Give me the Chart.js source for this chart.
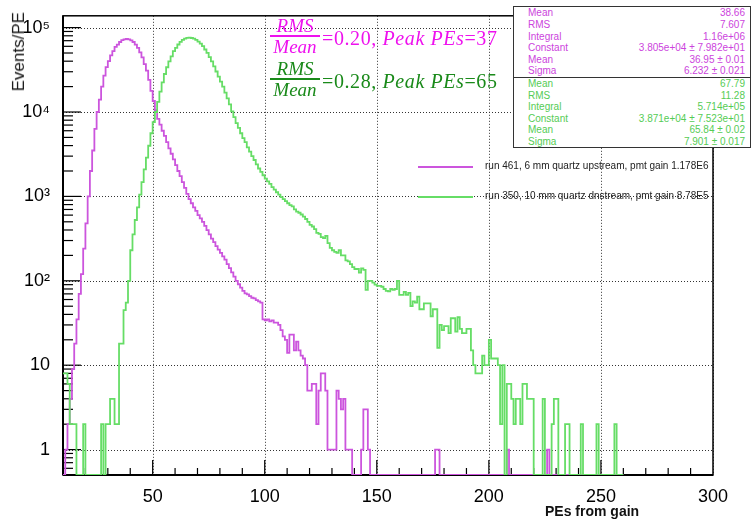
<!DOCTYPE html>
<html>
<head>
<meta charset="utf-8">
<title>PEs from gain</title>
<script src="https://cdn.jsdelivr.net/npm/chart.js@4.4.1/dist/chart.umd.min.js"></script>
<style>
  html, body { margin: 0; padding: 0; background: #fff; }
  #wrap { position: relative; width: 752px; height: 520px; overflow: hidden;
          font-family: "Liberation Sans", Arial, Helvetica, sans-serif; }
  #plot { position: absolute; left: 0; top: 0; }
  .abs { position: absolute; white-space: nowrap; }
  #ytitle { left: 9px; top: 12px; font-size: 17px; line-height: 20px; color: #111;
            writing-mode: vertical-rl; transform: rotate(180deg); }
  #xtitle { left: 545px; top: 503px; font-size: 14px; font-weight: bold; line-height: 16px; color: #111; }
  .tex { font-family: "Liberation Serif", "DejaVu Serif", serif; line-height: 1; }
  .tex i { font-style: italic; }
  .num, .den { font-size: 19px; font-style: italic; width: 52px; text-align: center; }
  .bar { height: 1.5px; width: 50px; }
  .eq { font-size: 20px; letter-spacing: 0.6px; }
  .stats { left: 513px; width: 238px; box-sizing: border-box; border: 1px solid #333;
           background: #fff; font-size: 10px; }
  .stats .row { display: flex; justify-content: space-between; height: 11.6px; line-height: 11.6px;
                padding: 0 5px 0 14px; }
  .leg-line { height: 2px; width: 55px; }
  .leg-text { font-size: 10px; line-height: 12px; color: #222; }
</style>
</head>
<body>
<div id="wrap">
  <canvas id="plot" width="752" height="520"></canvas>
  <div id="ytitle" class="abs">Events/PE</div>
  <div id="xtitle" class="abs">PEs from gain</div>
</div>
<script>
// ── data ────────────────────────────────────────────────
// one bin per PE, first bin starts at PE 10
const BIN_LOW   = 10;
const BIN_WIDTH = 1;

// run 461 (magenta), bins PE 10..259
const run461 = [
  0, 1, 2, 4, 9, 18, 35, 70, 120, 240,
  480, 1000, 2000, 3500, 6300, 10000, 14000, 20000, 27000, 34000,
  40000, 47000, 52500, 59000, 63000, 67500, 71000, 72500, 73300, 72500,
  70500, 67500, 63000, 57500, 51000, 44500, 37000, 31000, 24000, 17800,
  13500, 10500, 8300, 7100, 6000, 5200, 4400, 3700, 3200, 2750,
  2350, 2000, 1740, 1480, 1260, 1070, 930, 830, 740, 675,
  600, 550, 500, 447, 398, 355, 316, 288, 257, 234,
  214, 195, 178, 158, 141, 126, 112, 100, 91, 83,
  76, 71, 69, 66, 63, 62, 59, 57, 55, 35,
  34, 35, 33, 34, 32, 32, 30, 26, 22, 20,
  14, 23, 23, 15, 19, 15, 13, 12, 10, 5,
  5, 6, 6, 2, 5, 8, 8, 5, 1, 1,
  1, 1, 5, 4, 3, 4, 1, 1, 1, 0,
  0, 0, 0, 1, 3, 3, 1, 0, 0, 0,
  0, 0, 0, 0, 0, 0, 0, 0, 0, 0,
  0, 0, 0, 0, 0, 0, 0, 0, 0, 0,
  0, 0, 0, 0, 0, 0, 1, 1, 0, 0,
  0, 0, 0, 0, 0, 0, 0, 0, 0, 0,
  0, 0, 0, 0, 0, 0, 0, 0, 0, 0,
  0, 0, 0, 0, 0, 0, 0, 0, 1, 0,
  0, 0, 0, 0, 0, 0, 0, 0, 0, 0,
  0, 0, 0, 0, 0, 0, 1, 0, 0, 0,
  0, 0, 0, 0, 0, 0, 0, 0, 0, 0,
  0, 0, 0, 0, 0, 0, 0, 0, 0, 0,
  0, 0, 0, 0, 0, 0, 0, 0, 0, 0
];

// run 350 (green), bins PE 10..259
const run350 = [
  8, 8, 6, 2, 2, 2, 0, 0, 0, 2,
  0, 0, 0, 0, 0, 0, 0, 2, 0, 2,
  2, 4, 4, 2, 2, 18, 18, 45, 55, 100,
  230, 355, 525, 740, 1050, 1480, 2090, 2880, 3980, 5600,
  7600, 10000, 13200, 17400, 22400, 28200, 33900, 39800, 45700, 52500,
  57500, 63100, 67600, 71600, 74100, 75500, 75900, 75300, 74100, 71600,
  68400, 64600, 60300, 55000, 50100, 44700, 39800, 34700, 30200, 26300,
  22900, 20000, 17000, 14500, 12300, 10200, 8700, 7400, 6500, 5600,
  4900, 4400, 3800, 3400, 3000, 2700, 2400, 2140, 1950, 1780,
  1620, 1510, 1410, 1290, 1200, 1120, 1050, 980, 930, 880,
  830, 790, 760, 700, 660, 640, 610, 575, 540, 500,
  460, 440, 410, 370, 360, 330, 320, 340, 280, 245,
  230, 220, 214, 230, 200, 200, 175, 170, 158, 145,
  138, 138, 125, 140, 135, 78, 100, 100, 95, 90,
  87, 87, 85, 80, 76, 75, 80, 78, 80, 100,
  68, 68, 74, 68, 72, 50, 57, 55, 65, 46,
  46, 54, 54, 54, 38, 46, 46, 16, 30, 26,
  29, 29, 24, 36, 36, 25, 37, 27, 24, 24,
  27, 27, 15, 10, 8, 8, 8, 13, 10, 10,
  20, 12, 12, 12, 10, 2, 10, 0, 6, 6,
  4, 2, 4, 4, 2, 6, 6, 4, 4, 4,
  0, 0, 0, 0, 4, 0, 0, 0, 2, 4,
  4, 0, 0, 0, 2, 2, 0, 0, 0, 0,
  0, 2, 0, 0, 0, 0, 0, 0, 2, 0,
  0, 0, 0, 0, 0, 0, 2, 0, 0, 0
];

const X_MIN = 10, X_MAX = 300;
const Y_MIN = 0.5, Y_MAX = 1.38e5;
const X_TICKS       = [50, 100, 150, 200, 250, 300];
const X_TICK_LABELS = ['50', '100', '150', '200', '250', '300'];
const Y_TICKS       = [1, 10, 100, 1000, 10000, 100000];
const Y_TICK_LABELS = ['1', '10', '10²', '10³', '10⁴', '10⁵'];

const LEGEND_TEXT = [
  'run 461, 6 mm quartz upstream, pmt gain 1.178E6',
  'run 350, 10 mm quartz dnstream, pmt gain 8.78E5'
];
const STATS_LABELS = ['Mean', 'RMS', 'Integral', 'Constant', 'Mean', 'Sigma'];
const STATS_461 = ['38.66', '7.607', '1.16e+06', '3.805e+04 ± 7.982e+01', '36.95 ± 0.01', '6.232 ± 0.021'];
const STATS_350 = ['67.79', '11.28', '5.714e+05', '3.871e+04 ± 7.523e+01', '65.84 ± 0.02', '7.901 ± 0.017'];
const RMS_OVER_MEAN = ['0.20', '0.28'];
const PEAK_PES      = ['37', '65'];

// ── colours ─────────────────────────────────────────────
const MAGENTA     = '#cc55dd';
const GREEN       = '#66dd66';
const TEX_COLORS  = ['#ee11ee', '#1a8a1a'];
const STAT_COLORS = ['#cc44dd', '#55cc55'];

Chart.defaults.font.family = '"Liberation Sans", Arial, sans-serif';
Chart.defaults.color = '#000';

// ── helpers ─────────────────────────────────────────────
// bin contents -> step points; empty bins sit on the bottom of the frame like ROOT
function toPoints(vals) {
  const pts = vals.map((v, i) => ({ x: BIN_LOW + i * BIN_WIDTH, y: v > 0 ? v : Y_MIN }));
  pts.push({ x: BIN_LOW + vals.length * BIN_WIDTH, y: pts[pts.length - 1].y });
  return pts;
}

function seg(ctx, x1, y1, x2, y2) {
  ctx.beginPath();
  ctx.moveTo(x1, y1);
  ctx.lineTo(x2, y2);
  ctx.stroke();
}

function addDiv(cls, style, html) {
  const d = document.createElement('div');
  d.className = cls;
  d.setAttribute('style', style);
  d.innerHTML = html;
  document.getElementById('wrap').appendChild(d);
  return d;
}

// ── ROOT style frame: dotted grid, inward ticks, box ───
const rootFrame = {
  id: 'rootFrame',
  beforeDatasetsDraw(chart) {
    const { ctx, chartArea: a, scales: { x, y } } = chart;
    ctx.save();

    ctx.strokeStyle = '#333';
    ctx.lineWidth = 1;
    ctx.setLineDash([1, 2]);
    X_TICKS.forEach(v => {
      const px = Math.round(x.getPixelForValue(v)) + 0.5;
      seg(ctx, px, a.top, px, a.bottom);
    });
    Y_TICKS.forEach(v => {
      const py = Math.round(y.getPixelForValue(v)) + 0.5;
      seg(ctx, a.left, py, a.right, py);
    });
    ctx.setLineDash([]);

    ctx.strokeStyle = '#000';
    ctx.lineWidth = 1.2;
    for (let v = 20; v < X_MAX; v += 10) {
      const px = x.getPixelForValue(v);
      seg(ctx, px, a.bottom, px, a.bottom - (v % 50 === 0 ? 15 : 7));
    }
    for (let e = -1; e <= 5; e++) {
      for (let m = 1; m <= 9; m++) {
        const v = m * Math.pow(10, e);
        if (v < Y_MIN || v > Y_MAX) continue;
        const py = y.getPixelForValue(v);
        seg(ctx, a.left, py, a.left + (m === 1 ? 18 : 10), py);
      }
    }

    ctx.lineWidth = 1.5;
    ctx.strokeRect(a.left, a.top, a.right - a.left, a.bottom - a.top);
    ctx.lineWidth = 2;
    seg(ctx, a.left, a.top, a.left, a.bottom);
    seg(ctx, a.left, a.bottom, a.right, a.bottom);
    ctx.restore();
  }
};

// ── chart ───────────────────────────────────────────────
const histStyle = { borderWidth: 1.8, stepped: true, pointRadius: 0, fill: false, tension: 0 };

new Chart(document.getElementById('plot'), {
  type: 'line',
  data: {
    datasets: [
      Object.assign({ label: LEGEND_TEXT[1], data: toPoints(run350), borderColor: GREEN, order: 0 }, histStyle),
      Object.assign({ label: LEGEND_TEXT[0], data: toPoints(run461), borderColor: MAGENTA, order: 1 }, histStyle)
    ]
  },
  options: {
    responsive: false,
    animation: false,
    devicePixelRatio: 1,
    layout: { padding: { left: 0, right: 39, top: 7, bottom: 0 } },
    plugins: { legend: { display: false }, tooltip: { enabled: false } },
    scales: {
      x: {
        type: 'linear', min: X_MIN, max: X_MAX,
        grid: { display: false }, border: { display: false },
        afterBuildTicks: s => { s.ticks = X_TICKS.map(v => ({ value: v })); },
        afterFit: s => { s.height = 45; },
        ticks: { autoSkip: false, maxRotation: 0, padding: 3, font: { size: 18 },
                 callback: (v, i) => X_TICK_LABELS[i] }
      },
      y: {
        type: 'logarithmic', min: Y_MIN, max: Y_MAX,
        grid: { display: false }, border: { display: false },
        afterBuildTicks: s => { s.ticks = Y_TICKS.map(v => ({ value: v })); },
        afterFit: s => { s.width = 63; },
        ticks: { autoSkip: false, padding: 5, font: { size: 18 },
                 callback: (v, i) => Y_TICK_LABELS[i] }
      }
    }
  },
  plugins: [rootFrame]
});

// ── annotations (RMS/Mean fractions) ────────────────────
RMS_OVER_MEAN.forEach((r, k) => {
  const dy = k * 43, c = TEX_COLORS[k];
  addDiv('abs tex num', `left:269px;top:${16 + dy}px;color:${c}`, 'RMS');
  addDiv('abs bar', `left:270px;top:${35 + dy}px;background:${c}`, '');
  addDiv('abs tex den', `left:269px;top:${37 + dy}px;color:${c}`, 'Mean');
  addDiv('abs tex eq', `left:322px;top:${28 + dy}px;color:${c}`,
         `=${r}, <i>Peak PEs</i>=${PEAK_PES[k]}`);
});

// ── stats boxes ─────────────────────────────────────────
[STATS_461, STATS_350].forEach((vals, k) => {
  const rows = STATS_LABELS.map((l, i) =>
    `<div class="row"><span>${l}</span><span>${vals[i]}</span></div>`).join('');
  addDiv('abs stats',
         `top:${k === 0 ? 6 : 77}px;height:${k === 0 ? 72 : 71}px;padding-top:${k === 0 ? 0.4 : 0}px;color:${STAT_COLORS[k]}`,
         rows);
});

// ── legend ──────────────────────────────────────────────
LEGEND_TEXT.forEach((t, k) => {
  const cy = 167 + k * 30;
  addDiv('abs leg-line', `left:418px;top:${cy - 1}px;background:${k === 0 ? MAGENTA : GREEN}`, '');
  addDiv('abs leg-text', `left:485px;top:${cy - 7}px`, t);
});
</script>
</body>
</html>
